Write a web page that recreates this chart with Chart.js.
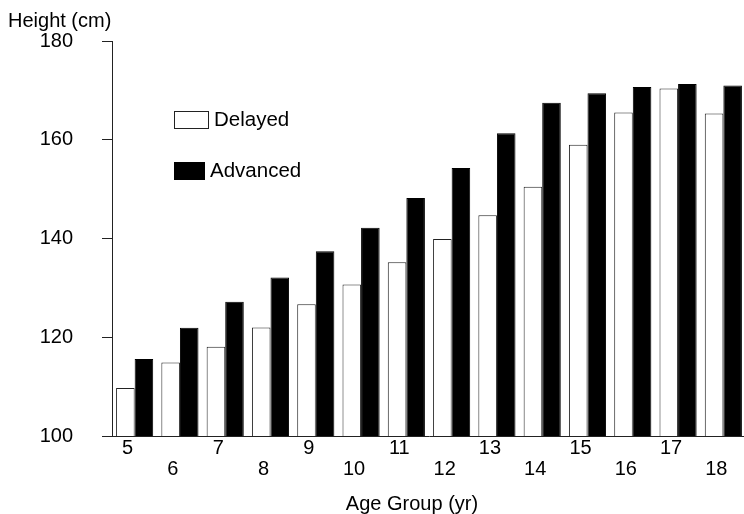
<!DOCTYPE html>
<html>
<head>
<meta charset="utf-8">
<script src="https://cdn.jsdelivr.net/npm/chart.js@4/dist/chart.umd.min.js"></script>
<style>
  html, body { margin: 0; padding: 0; background: #fff; overflow: hidden; }
  #wrap { width: 750px; height: 514px; }
</style>
</head>
<body>
<div id="wrap"><canvas id="chart" width="750" height="514"></canvas></div>
<script>
'use strict';

var ages = ['5', '6', '7', '8', '9', '10', '11', '12', '13', '14', '15', '16', '17', '18'];
var delayed = [109.7, 114.9, 118.1, 122.0, 126.7, 130.7, 135.2, 139.9, 144.7, 150.5, 159.0, 165.5, 170.4, 165.3];
var advanced = [115.6, 121.9, 127.2, 132.1, 137.4, 142.2, 148.2, 154.3, 161.3, 167.5, 169.4, 170.7, 171.3, 171.0];
var yTicks = [100, 120, 140, 160, 180];

var FONT = 'Arial, "Liberation Sans", Helvetica, sans-serif';

// legend inside the plot + x axis caption
var extras = {
  id: 'extras',
  afterDraw: function(chart) {
    var ctx = chart.ctx;
    ctx.save();
    ctx.font = '20.5px ' + FONT;
    ctx.textBaseline = 'middle';
    chart.data.datasets.forEach(function(ds, i) {
      var x = 174, y = 111 + i * 51;
      var w = i === 0 ? 35 : 31;
      ctx.fillStyle = ds.backgroundColor;
      ctx.fillRect(x, y, w, 18);
      ctx.strokeStyle = ds.borderColor;
      ctx.lineWidth = 1;
      ctx.strokeRect(x + 0.5, y + 0.5, w - 1, 17);
      ctx.fillStyle = '#000';
      ctx.textAlign = 'left';
      ctx.fillText(ds.label, x + w + 5, y + 9);
    });
    ctx.font = '20px ' + FONT;
    ctx.textAlign = 'center';
    ctx.fillText('Age Group (yr)', 412, 504);
    ctx.restore();
  }
};

var chart = new Chart(document.getElementById('chart'), {
  type: 'bar',
  data: {
    labels: ages,
    datasets: [{
      label: 'Delayed',
      data: delayed,
      backgroundColor: '#ffffff',
      borderColor: '#222222',
      borderWidth: 1
    }, {
      label: 'Advanced',
      data: advanced,
      backgroundColor: '#000000',
      borderColor: '#000000',
      borderWidth: 1
    }]
  },
  options: {
    responsive: false,
    animation: false,
    events: [],
    categoryPercentage: 0.82,
    barPercentage: 1,
    layout: { padding: { left: 8, right: 4, top: 0, bottom: 0 } },
    plugins: {
      legend: { display: false },
      tooltip: { enabled: false },
      title: {
        display: true,
        text: 'Height (cm)',
        align: 'start',
        color: '#000',
        font: { family: FONT, size: 20, weight: 'normal', lineHeight: 1.2 },
        padding: { top: 9, bottom: 8 }
      }
    },
    scales: {
      x: {
        grid: { display: false, drawTicks: false },
        border: { display: true, color: '#222', width: 1 },
        ticks: {
          color: '#000',
          font: { family: FONT, size: 20, lineHeight: 1.05 },
          padding: 2,
          labelOffset: -7,
          autoSkip: false,
          maxRotation: 0,
          callback: function(value, index) {
            var t = this.getLabelForValue(value);
            return index % 2 === 0 ? [t] : ['', t];
          }
        },
        afterFit: function(scale) { scale.height = 78; }
      },
      y: {
        min: 100,
        max: 180,
        grid: { drawOnChartArea: false, drawTicks: true, tickLength: 10, color: '#222' },
        border: { display: true, color: '#222', width: 1 },
        afterBuildTicks: function(scale) {
          scale.ticks = yTicks.map(function(v) { return { value: v }; });
        },
        ticks: {
          color: '#000',
          font: { family: FONT, size: 20 },
          padding: 29
        },
        afterFit: function(scale) { scale.width = 104; }
      }
    }
  },
  plugins: [extras]
});
</script>
</body>
</html>
